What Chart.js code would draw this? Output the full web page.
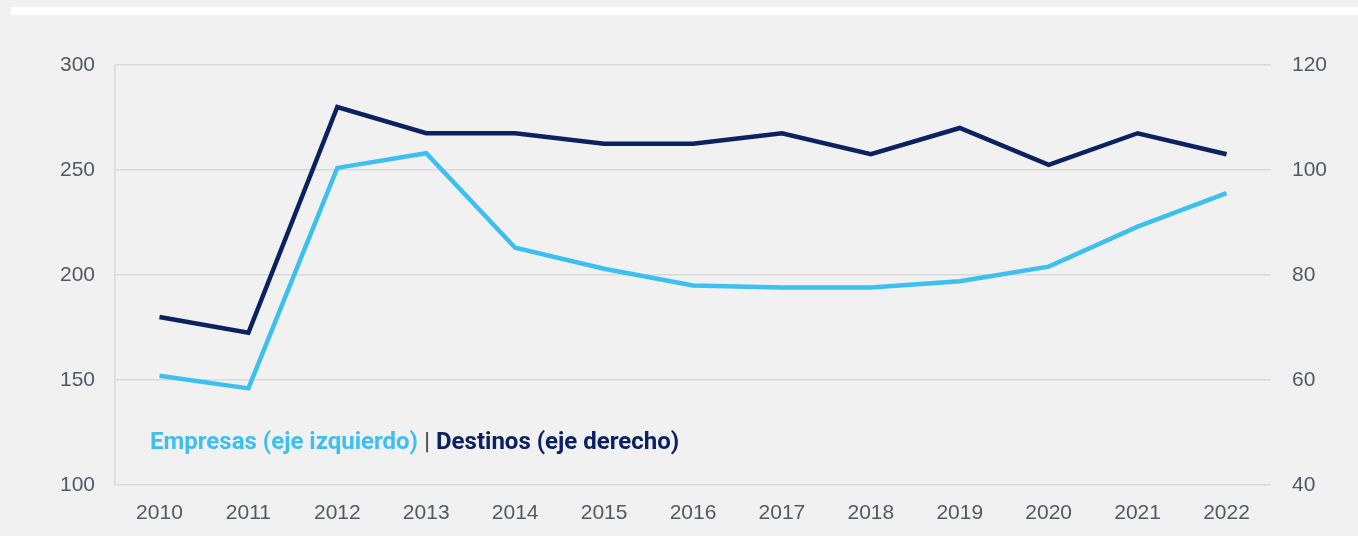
<!DOCTYPE html>
<html>
<head>
<meta charset="utf-8">
<style>
  html, body { margin: 0; padding: 0; background: #f2f2f2; }
  #wrap { position: relative; width: 1358px; height: 536px; background: #f1f1f1; }
  #band { position: absolute; left: 11px; top: 7px; width: 1347px; height: 8px; background: #ffffff; }
  #chart { position: absolute; left: 0; top: 0; }
  #legend { position: absolute; left: 150px; top: 427px; font: bold 24px Roboto, sans-serif; white-space: nowrap; }
  #legend .a { color: #3dbfef; }
  #legend .sep { color: #595959; }
  #legend .b { color: #0b2160; }
</style>
</head>
<body>
<div id="wrap">
  <div id="band"></div>
  <canvas id="chart" width="1358" height="536"></canvas>
  <div id="legend"><span class="a">Empresas (eje izquierdo)</span> <span class="sep">|</span> <span class="b">Destinos (eje derecho)</span></div>
</div>
<script src="https://cdn.jsdelivr.net/npm/chart.js"></script>
<script>
const years = ["2010", "2011", "2012", "2013", "2014", "2015", "2016", "2017", "2018", "2019", "2020", "2021", "2022"];
const empresas = [152, 146, 251, 258, 213, 203, 195, 194, 194, 197, 204, 223, 239];
const destinos = [72, 69, 112, 107, 107, 105, 105, 107, 103, 108, 101, 107, 103];

const tickFont = { family: "'Liberation Sans', Arial, sans-serif", size: 21 };
const tickColor = "#535862";
const gridColor = "#d9d9d9";

new Chart(document.getElementById("chart"), {
    type: "line",
    data: {
        labels: years,
        datasets: [
            {
                label: "Destinos (eje derecho)",
                data: destinos,
                yAxisID: "y1",
                borderColor: "#0b2160",
                borderWidth: 4.5,
                pointRadius: 0,
                tension: 0,
                fill: false
            },
            {
                label: "Empresas (eje izquierdo)",
                data: empresas,
                yAxisID: "y",
                borderColor: "#3dbfef",
                borderWidth: 4.5,
                pointRadius: 0,
                tension: 0,
                fill: false
            }
        ]
    },
    options: {
        responsive: false,
        animation: false,
        layout: { padding: { top: 65, left: 0, right: 0, bottom: 0 } },
        plugins: {
            legend: { display: false },
            tooltip: { enabled: false }
        },
        scales: {
            x: {
                offset: true,
                grid: { display: false, drawTicks: false },
                border: { display: false },
                ticks: { font: tickFont, color: tickColor, padding: 16, maxRotation: 0 },
                afterFit: function(scale) { scale.height = 51; }
            },
            y: {
                position: "left",
                min: 100,
                max: 300,
                ticks: { stepSize: 50, font: tickFont, color: tickColor, padding: 20 },
                grid: { color: gridColor, lineWidth: 1.5, drawTicks: false },
                border: { display: true, color: gridColor, width: 1.5 },
                afterFit: function(scale) { scale.width = 115; }
            },
            y1: {
                position: "right",
                min: 40,
                max: 120,
                ticks: { stepSize: 20, font: tickFont, color: tickColor, padding: 21 },
                grid: { display: false, drawTicks: false },
                border: { display: false },
                afterFit: function(scale) { scale.width = 87; }
            }
        }
    }
});
</script>
</body>
</html>
